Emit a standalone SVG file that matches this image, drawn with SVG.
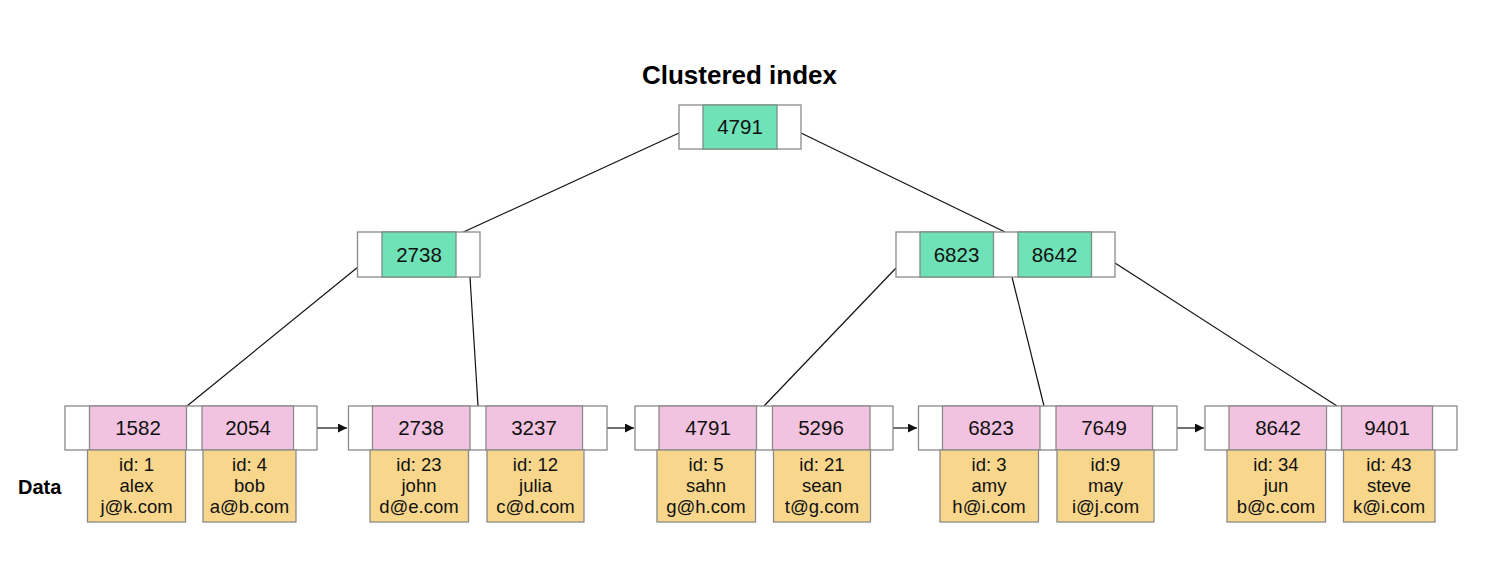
<svg xmlns="http://www.w3.org/2000/svg" width="1490" height="572" viewBox="0 0 1490 572">
  <style>
    .box { fill: #ffffff; stroke: #8a8a8a; stroke-width: 1.3; }
    .key { fill: #6fe2b7; stroke: #7a8f86; stroke-width: 1.3; }
    .leafkey { fill: #f2c3e0; stroke: #8a8a8a; stroke-width: 1.3; }
    .row { fill: #f8d68b; stroke: #8a8a8a; stroke-width: 1.3; }
    .num { font-family: "Liberation Sans", Arial, sans-serif; font-size: 20.5px; fill: #111; text-anchor: middle; }
    .rec { font-family: "Liberation Sans", Arial, sans-serif; font-size: 18.5px; fill: #111; text-anchor: middle; }
    .title { font-family: "Liberation Sans", Arial, sans-serif; font-weight: bold; fill: #000; }
    .edge { stroke: #111; stroke-width: 1.2; fill: none; }
    .link { stroke: #111; stroke-width: 1.2; fill: none; marker-end: url(#head); }
  </style>
  <defs>
    <marker id="head" viewBox="0 0 10 10" refX="10" refY="5" markerWidth="10" markerHeight="9" markerUnits="userSpaceOnUse" orient="auto">
      <path d="M0,0 L10,5 L0,10 Z" fill="#111"/>
    </marker>
  </defs>

  <rect width="1490" height="572" fill="#ffffff"/>

  <text class="title" x="739.5" y="84" font-size="26" text-anchor="middle">Clustered index</text>
  <text class="title" x="18" y="494" font-size="20">Data</text>

  <!-- tree edges and leaf sibling links -->
  <g id="connectors">
    <line class="edge" x1="679" y1="133" x2="457" y2="235"/>
    <line class="edge" x1="801" y1="133" x2="1005" y2="232"/>
    <line class="edge" x1="358" y1="267" x2="187" y2="406"/>
    <line class="edge" x1="470" y1="277" x2="478" y2="406"/>
    <line class="edge" x1="896" y1="268" x2="764" y2="406"/>
    <line class="edge" x1="1012" y1="277" x2="1044" y2="406"/>
    <line class="edge" x1="1115" y1="263" x2="1337" y2="406"/>
    <line class="link" x1="317" y1="428" x2="347" y2="428"/>
    <line class="link" x1="607" y1="428" x2="634" y2="428"/>
    <line class="link" x1="893" y1="428" x2="917" y2="428"/>
    <line class="link" x1="1177" y1="428" x2="1204" y2="428"/>
  </g>

  <!-- root -->
  <g id="root">
    <rect class="box" x="679" y="105" width="122" height="44"/>
    <rect class="key" x="703" y="105" width="74" height="44"/>
    <text class="num" x="740" y="134">4791</text>
  </g>

  <!-- internal nodes -->
  <g id="inner-left">
    <rect class="box" x="357.5" y="232" width="122.5" height="45"/>
    <rect class="key" x="382" y="232" width="74" height="45"/>
    <text class="num" x="419" y="261.5">2738</text>
  </g>
  <g id="inner-right">
    <rect class="box" x="896" y="232" width="219" height="45"/>
    <rect class="key" x="920" y="232" width="73.5" height="45"/>
    <rect class="key" x="1018" y="232" width="73.5" height="45"/>
    <text class="num" x="956.5" y="261.5">6823</text>
    <text class="num" x="1054.5" y="261.5">8642</text>
  </g>

  <!-- leaves -->
  <g id="leaf-1">
    <rect class="box" x="65" y="406" width="252" height="44"/>
    <rect class="leafkey" x="89.5" y="406" width="97" height="44"/>
    <rect class="leafkey" x="202" y="406" width="91.5" height="44"/>
    <text class="num" x="138" y="435">1582</text>
    <text class="num" x="248" y="435">2054</text>
    <rect class="row" x="87.5" y="450" width="98" height="72"/>
    <rect class="row" x="203" y="450" width="93" height="72"/>
    <text class="rec" x="136.5" y="471">id: 1</text>
    <text class="rec" x="136.5" y="492">alex</text>
    <text class="rec" x="136.5" y="513">j@k.com</text>
    <text class="rec" x="249.5" y="471">id: 4</text>
    <text class="rec" x="249.5" y="492">bob</text>
    <text class="rec" x="249.5" y="513">a@b.com</text>
  </g>
  <g id="leaf-2">
    <rect class="box" x="348.5" y="406" width="258.5" height="44"/>
    <rect class="leafkey" x="372.5" y="406" width="97.5" height="44"/>
    <rect class="leafkey" x="486" y="406" width="96.5" height="44"/>
    <text class="num" x="421" y="435">2738</text>
    <text class="num" x="534" y="435">3237</text>
    <rect class="row" x="370" y="450" width="98.5" height="72"/>
    <rect class="row" x="487" y="450" width="97" height="72"/>
    <text class="rec" x="419" y="471">id: 23</text>
    <text class="rec" x="419" y="492">john</text>
    <text class="rec" x="419" y="513">d@e.com</text>
    <text class="rec" x="535.5" y="471">id: 12</text>
    <text class="rec" x="535.5" y="492">julia</text>
    <text class="rec" x="535.5" y="513">c@d.com</text>
  </g>
  <g id="leaf-3">
    <rect class="box" x="635" y="406" width="258" height="44"/>
    <rect class="leafkey" x="659" y="406" width="97.5" height="44"/>
    <rect class="leafkey" x="772.5" y="406" width="97.5" height="44"/>
    <text class="num" x="708" y="435">4791</text>
    <text class="num" x="821" y="435">5296</text>
    <rect class="row" x="657" y="450" width="98.5" height="72"/>
    <rect class="row" x="773.5" y="450" width="97" height="72"/>
    <text class="rec" x="706" y="471">id: 5</text>
    <text class="rec" x="706" y="492">sahn</text>
    <text class="rec" x="706" y="513">g@h.com</text>
    <text class="rec" x="822" y="471">id: 21</text>
    <text class="rec" x="822" y="492">sean</text>
    <text class="rec" x="822" y="513">t@g.com</text>
  </g>
  <g id="leaf-4">
    <rect class="box" x="918.5" y="406" width="258.5" height="44"/>
    <rect class="leafkey" x="942.5" y="406" width="97.5" height="44"/>
    <rect class="leafkey" x="1056" y="406" width="96.5" height="44"/>
    <text class="num" x="991" y="435">6823</text>
    <text class="num" x="1104" y="435">7649</text>
    <rect class="row" x="940" y="450" width="98.5" height="72"/>
    <rect class="row" x="1057" y="450" width="97" height="72"/>
    <text class="rec" x="989" y="471">id: 3</text>
    <text class="rec" x="989" y="492">amy</text>
    <text class="rec" x="989" y="513">h@i.com</text>
    <text class="rec" x="1105.5" y="471">id:9</text>
    <text class="rec" x="1105.5" y="492">may</text>
    <text class="rec" x="1105.5" y="513">i@j.com</text>
  </g>
  <g id="leaf-5">
    <rect class="box" x="1205" y="406" width="252" height="44"/>
    <rect class="leafkey" x="1229" y="406" width="97.5" height="44"/>
    <rect class="leafkey" x="1341.5" y="406" width="91" height="44"/>
    <text class="num" x="1278" y="435">8642</text>
    <text class="num" x="1387" y="435">9401</text>
    <rect class="row" x="1227" y="450" width="98.5" height="72"/>
    <rect class="row" x="1343.5" y="450" width="91.5" height="72"/>
    <text class="rec" x="1276" y="471">id: 34</text>
    <text class="rec" x="1276" y="492">jun</text>
    <text class="rec" x="1276" y="513">b@c.com</text>
    <text class="rec" x="1389" y="471">id: 43</text>
    <text class="rec" x="1389" y="492">steve</text>
    <text class="rec" x="1389" y="513">k@i.com</text>
  </g>
</svg>
